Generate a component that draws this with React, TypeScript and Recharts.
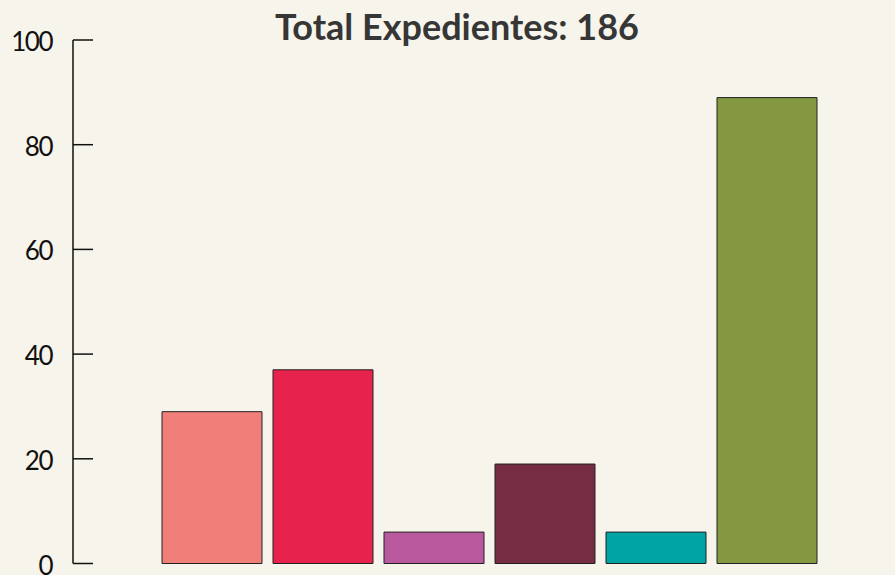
import { BarChart, Bar, XAxis, YAxis, Cell } from 'recharts'

const categories = ['A', 'B', 'C', 'D', 'E', 'F']
const values = [29, 37, 6, 19, 6, 89]
const barColors = ['#ef7f78', '#e7224c', '#ba5a9e', '#762c42', '#00a4a5', '#849842']
const yTicks = [0, 20, 40, 60, 80, 100]

const data = categories.map((name, i) => ({ name, value: values[i] }))

const BG = '#f7f4ec'

const YTick = ({ x, y, payload }: any) => (
  <g>
    <line x1={x + 21} x2={x + 41} y1={y} y2={y} stroke="#111" strokeWidth={1.5} />
    <text
      x={x}
      y={y}
      dy={11}
      textAnchor="end"
      fill="#111"
      fontSize={26}
      letterSpacing={-1.5}
      fontFamily="Lato, sans-serif"
    >
      {payload.value}
    </text>
  </g>
)

export default function App() {
  return (
    <div style={{ position: 'relative', width: 895, height: 575, background: BG, overflow: 'hidden' }}>
      <style>{'body{margin:0}'}</style>
      <div
        style={{
          position: 'absolute',
          left: 0,
          top: 4,
          width: 914,
          textAlign: 'center',
          fontFamily: 'Lato, sans-serif',
          fontWeight: 700,
          fontSize: 36,
          color: '#363636',
          lineHeight: '44px',
        }}
      >
        Total Expedientes: 186
      </div>
      <BarChart
        width={895}
        height={575}
        data={data}
        margin={{ top: 40, right: 0, bottom: 11.5, left: 0 }}
        barSize={100}
      >
        <XAxis
          dataKey="name"
          height={0}
          tick={false}
          tickLine={false}
          axisLine={{ stroke: '#222', strokeWidth: 1.5 }}
          padding={{ left: 83, right: 73 }}
        />
        <YAxis
          width={73}
          domain={[0, 100]}
          ticks={yTicks}
          tickSize={0}
          tickMargin={21}
          tickLine={false}
          tick={<YTick />}
          axisLine={{ stroke: '#111', strokeWidth: 1.5 }}
          interval={0}
        />
        <Bar dataKey="value" stroke="#222" strokeWidth={1} isAnimationActive={false}>
          {data.map((d, i) => (
            <Cell key={d.name} fill={barColors[i]} />
          ))}
        </Bar>
      </BarChart>
    </div>
  )
}
